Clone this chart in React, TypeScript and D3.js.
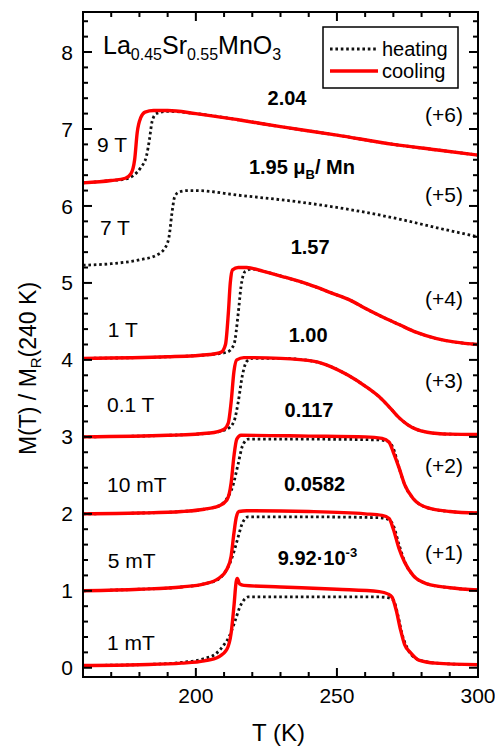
import React, { useEffect, useRef } from 'react';
import * as d3 from 'd3';

type Pt = [number, number];

// heating (dotted) / cooling (red) curves, T in K, stacked M(T)/M_R(240 K)
const heat1mT: Pt[] = [[160, 0.03], [180, 0.04], [195, 0.07], [203, 0.12], [207, 0.18], [210, 0.3], [212, 0.42], [214, 0.62], [215.5, 0.78], [217, 0.88], [218.5, 0.92], [230, 0.92], [250, 0.92], [265, 0.92], [268, 0.91], [270, 0.88], [271.5, 0.7], [273, 0.45], [275, 0.25], [278, 0.12], [283, 0.07], [290, 0.05], [300, 0.04]];
const cool1mT: Pt[] = [[160, 0.03], [180, 0.04], [195, 0.06], [203, 0.09], [208, 0.14], [211, 0.24], [212.5, 0.45], [213.5, 0.8], [214.3, 1.12], [214.7, 1.16], [215.5, 1.09], [217, 1.07], [230, 1.05], [250, 1.02], [265, 0.99], [268, 0.96], [269.5, 0.92], [271, 0.75], [272.5, 0.5], [274, 0.3], [276, 0.2], [279, 0.1], [285, 0.06], [300, 0.04]];

const heat5mT: Pt[] = [[160, 1.0], [180, 1.02], [195, 1.05], [203, 1.09], [208, 1.15], [211, 1.28], [213, 1.45], [215, 1.7], [216.5, 1.88], [218.5, 1.96], [240, 1.96], [265, 1.95], [268, 1.93], [270, 1.85], [272, 1.6], [274, 1.38], [277, 1.2], [282, 1.09], [290, 1.04], [300, 1.01]];
const cool5mT: Pt[] = [[160, 1.0], [180, 1.02], [195, 1.05], [203, 1.09], [208, 1.16], [211, 1.28], [212.5, 1.45], [213.5, 1.75], [214.3, 1.95], [215.3, 2.03], [218, 2.04], [240, 2.03], [260, 2.0], [266, 1.98], [268.5, 1.94], [270, 1.8], [272, 1.55], [274, 1.37], [277, 1.2], [282, 1.09], [290, 1.04], [300, 1.01]];

const heat10mT: Pt[] = [[160, 2.0], [180, 2.01], [195, 2.03], [203, 2.06], [208, 2.1], [211, 2.2], [213, 2.35], [215, 2.65], [216.5, 2.88], [218.5, 2.97], [240, 2.97], [265, 2.96], [268, 2.94], [270, 2.85], [272, 2.6], [274, 2.38], [277, 2.2], [282, 2.08], [290, 2.03], [300, 2.01]];
const cool10mT: Pt[] = [[160, 2.0], [180, 2.01], [195, 2.03], [203, 2.06], [208, 2.1], [211, 2.18], [212.5, 2.4], [213.5, 2.75], [214.5, 2.97], [216, 3.02], [240, 3.01], [260, 3.0], [266, 2.98], [268.5, 2.93], [270, 2.8], [272, 2.6], [274, 2.38], [277, 2.2], [282, 2.08], [290, 2.03], [300, 2.01]];

const heat01T: Pt[] = [[160, 3.0], [190, 3.02], [205, 3.05], [211, 3.1], [213.5, 3.2], [215, 3.45], [216.5, 3.8], [218, 3.98], [220, 4.02], [230, 4.02], [242, 3.98], [248, 3.91], [254, 3.8], [260, 3.66], [265, 3.52], [269, 3.37], [272, 3.25], [275, 3.16], [278, 3.1], [282, 3.06], [290, 3.035], [300, 3.03]];
const cool01T: Pt[] = [[160, 3.0], [190, 3.02], [205, 3.05], [210, 3.1], [211.5, 3.18], [212.5, 3.45], [213.5, 3.85], [214.5, 4.0], [217, 4.03], [230, 4.02], [242, 3.98], [248, 3.91], [254, 3.8], [260, 3.66], [265, 3.52], [269, 3.37], [272, 3.25], [275, 3.16], [278, 3.1], [282, 3.06], [290, 3.035], [300, 3.03]];

const heat1T: Pt[] = [[160, 4.02], [190, 4.04], [205, 4.07], [211, 4.1], [213.5, 4.2], [215, 4.6], [216, 4.95], [217.5, 5.15], [220, 5.18], [224, 5.15], [231, 5.08], [240, 4.98], [248, 4.87], [255, 4.77], [260, 4.67], [266, 4.56], [272, 4.46], [278, 4.36], [285, 4.28], [292, 4.23], [300, 4.2]];
const cool1T: Pt[] = [[160, 4.02], [190, 4.04], [205, 4.07], [209, 4.1], [210.5, 4.2], [211.5, 4.6], [212.2, 5.0], [213, 5.17], [215, 5.2], [218, 5.2], [224, 5.15], [231, 5.08], [240, 4.98], [248, 4.87], [255, 4.77], [260, 4.67], [266, 4.56], [272, 4.46], [278, 4.36], [285, 4.28], [292, 4.23], [300, 4.2]];

const heat7T: Pt[] = [[160, 5.23], [170, 5.25], [180, 5.3], [186, 5.36], [189, 5.45], [190.5, 5.6], [191.5, 5.9], [192.5, 6.12], [194, 6.18], [197, 6.2], [200, 6.2], [215, 6.14], [237, 6.05], [255, 5.95], [272, 5.83], [285, 5.72], [300, 5.6]];

const heat9T: Pt[] = [[160, 6.3], [170, 6.33], [175, 6.35], [178, 6.4], [180.5, 6.5], [182.5, 6.65], [183.5, 6.85], [184.5, 7.1], [186, 7.2], [190, 7.23], [200, 7.2], [215, 7.12], [230, 7.03], [250, 6.92], [270, 6.8], [285, 6.73], [300, 6.66]];
const cool9T: Pt[] = [[160, 6.3], [170, 6.33], [175, 6.36], [177, 6.42], [178.3, 6.6], [179.2, 6.95], [180.5, 7.15], [182, 7.22], [185, 7.24], [190, 7.24], [200, 7.2], [215, 7.12], [230, 7.03], [250, 6.92], [270, 6.8], [285, 6.73], [300, 6.66]];

const heatingCurves = [heat1mT, heat5mT, heat10mT, heat01T, heat1T, heat7T, heat9T];
const coolingCurves = [cool1mT, cool5mT, cool10mT, cool01T, cool1T, cool9T];

const fieldLabels = ['1 mT', '5 mT', '10 mT', '0.1 T', '1 T', '7 T', '9 T'];
const offsetLabels = ['(+1)', '(+2)', '(+3)', '(+4)', '(+5)', '(+6)'];
const momentLabels = ['9.92·10', '0.0582', '0.117', '1.00', '1.57', '1.95 μ', '2.04'];

const xTickLabels = [200, 250, 300];
const yTickLabels = [0, 1, 2, 3, 4, 5, 6, 7, 8];

// label anchors in data coordinates (T, M)
const fieldPos: Pt[] = [[168.5, 0.23], [168.8, 1.29], [168.5, 2.29], [168.5, 3.32], [168.8, 4.3], [166, 5.62], [165, 6.7]];
const offsetPos: Pt[] = [[294.7, 1.4], [294.7, 2.53], [294.7, 3.64], [294.7, 4.7], [294.7, 6.05], [294.7, 7.09]];
const momentPos: Pt[] = [[243.1, 1.34], [242.1, 2.3], [240.1, 3.26], [239.8, 4.23], [240.5, 5.38], [237.6, 6.42], [232.3, 7.31]];

const FONT = '"Liberation Sans", Arial, Helvetica, sans-serif';

const App = () => {
  const svgRef = useRef<SVGSVGElement>(null);

  useEffect(() => {
    const svg = d3.select(svgRef.current);
    svg.selectAll('*').remove();

    const W = 495, H = 748;
    const margin = { top: 12, right: 17, bottom: 71, left: 83 };
    svg.attr('width', W).attr('height', H).style('font-family', FONT);

    const x = d3.scaleLinear().domain([160, 300]).range([margin.left, W - margin.right]);
    const y = d3.scaleLinear().domain([-0.12, 8.52]).range([H - margin.bottom, margin.top]);

    const bottom = H - margin.bottom, top = margin.top;
    const left = margin.left, right = W - margin.right;

    const line = d3.line<Pt>()
      .x(d => x(d[0]))
      .y(d => y(d[1]))
      .curve(d3.curveMonotoneX);

    const plot = svg.append('g');

    heatingCurves.forEach(c => {
      plot.append('path')
        .datum(c)
        .attr('fill', 'none')
        .attr('stroke', '#111')
        .attr('stroke-width', 2.8)
        .attr('stroke-dasharray', '2.6,2.8')
        .attr('d', line);
    });

    coolingCurves.forEach(c => {
      plot.append('path')
        .datum(c)
        .attr('fill', 'none')
        .attr('stroke', '#f00')
        .attr('stroke-width', 3.4)
        .attr('stroke-linejoin', 'round')
        .attr('d', line);
    });

    // ticks point inward on all four sides (minor every 10 K / 0.2)
    const xTicks = d3.range(170, 300, 10);
    const yTicks = d3.range(0, 43).map(i => +(i * 0.2).toFixed(1));
    const isMajorX = (v: number) => v % 50 === 0;
    const isMajorY = (v: number) => Math.abs(v - Math.round(v)) < 1e-6;
    const ticks = svg.append('g').attr('stroke', '#000').attr('stroke-width', 2);

    xTicks.forEach(v => {
      const len = isMajorX(v) ? 9 : 5;
      ticks.append('line').attr('x1', x(v)).attr('x2', x(v)).attr('y1', bottom).attr('y2', bottom - len);
      ticks.append('line').attr('x1', x(v)).attr('x2', x(v)).attr('y1', top).attr('y2', top + len);
    });
    yTicks.forEach(v => {
      const len = isMajorY(v) ? 9 : 5;
      ticks.append('line').attr('y1', y(v)).attr('y2', y(v)).attr('x1', left).attr('x2', left + len);
      ticks.append('line').attr('y1', y(v)).attr('y2', y(v)).attr('x1', right).attr('x2', right - len);
    });

    svg.append('g').selectAll('text')
      .data(xTickLabels)
      .join('text')
      .attr('x', d => x(d))
      .attr('y', bottom + 26)
      .attr('text-anchor', 'middle')
      .style('font-size', '21px')
      .text(d => d3.format('d')(d));

    svg.append('g').selectAll('text')
      .data(yTickLabels)
      .join('text')
      .attr('x', left - 10)
      .attr('y', d => y(d))
      .attr('dy', '0.36em')
      .attr('text-anchor', 'end')
      .style('font-size', '21px')
      .text(d => d3.format('d')(d));

    svg.append('rect')
      .attr('x', left).attr('y', top)
      .attr('width', right - left).attr('height', bottom - top)
      .attr('fill', 'none').attr('stroke', '#000').attr('stroke-width', 2);

    // axis titles
    svg.append('text')
      .attr('x', (left + right) / 2 - 2).attr('y', 741)
      .attr('text-anchor', 'middle')
      .style('font-size', '24px')
      .text('T (K)');

    const yl = svg.append('text')
      .attr('transform', `translate(36, ${(top + bottom) / 2 + 24}) rotate(-90)`)
      .attr('text-anchor', 'middle')
      .style('font-size', '23px');
    yl.append('tspan').text('M(T) / M');
    yl.append('tspan').attr('dy', 5).style('font-size', '15px').text('R');
    yl.append('tspan').attr('dy', -5).text('(240 K)');

    // compound
    const f = svg.append('text').attr('x', 103).attr('y', 54).style('font-size', '25px');
    [['La', 0], ['0.45', 1], ['Sr', 0], ['0.55', 1], ['MnO', 0], ['3', 1]].forEach(([s, sub], i, arr) => {
      const prevSub = i > 0 ? arr[i - 1][1] : 0;
      f.append('tspan')
        .attr('dy', sub === prevSub ? 0 : (sub ? 6 : -6))
        .style('font-size', sub ? '16px' : '25px')
        .text(s as string);
    });

    // legend
    const lg = svg.append('g');
    lg.append('rect').attr('x', 323).attr('y', 27).attr('width', 135).attr('height', 61)
      .attr('fill', '#fff').attr('stroke', '#000').attr('stroke-width', 1.5);
    lg.append('line').attr('x1', 330).attr('x2', 378).attr('y1', 49).attr('y2', 49)
      .attr('stroke', '#111').attr('stroke-width', 2.8).attr('stroke-dasharray', '2.6,2.8');
    lg.append('line').attr('x1', 330).attr('x2', 378).attr('y1', 71).attr('y2', 71)
      .attr('stroke', '#f00').attr('stroke-width', 3.4);
    lg.append('text').attr('x', 382).attr('y', 56).style('font-size', '20px').text('heating');
    lg.append('text').attr('x', 382).attr('y', 78).style('font-size', '20px').text('cooling');

    // annotations
    fieldLabels.forEach((s, i) => {
      svg.append('text').attr('x', x(fieldPos[i][0])).attr('y', y(fieldPos[i][1]))
        .style('font-size', '21px').text(s);
    });
    offsetLabels.forEach((s, i) => {
      svg.append('text').attr('x', x(offsetPos[i][0])).attr('y', y(offsetPos[i][1]))
        .attr('text-anchor', 'end').style('font-size', '21px').text(s);
    });
    momentLabels.forEach((s, i) => {
      const t = svg.append('text').attr('x', x(momentPos[i][0])).attr('y', y(momentPos[i][1]))
        .attr('text-anchor', 'middle').style('font-size', '20px').style('font-weight', 'bold');
      t.append('tspan').text(s);
      if (i === 0) {
        t.append('tspan').attr('dy', -8).style('font-size', '13px').text('-3');
      } else if (i === 5) {
        t.append('tspan').attr('dy', 5).style('font-size', '13px').text('B');
        t.append('tspan').attr('dy', -5).text('/ Mn');
      }
    });
  }, []);

  return <svg ref={svgRef} style={{ position: 'absolute', left: 0, top: 0, display: 'block' }}></svg>;
};

export default App;
